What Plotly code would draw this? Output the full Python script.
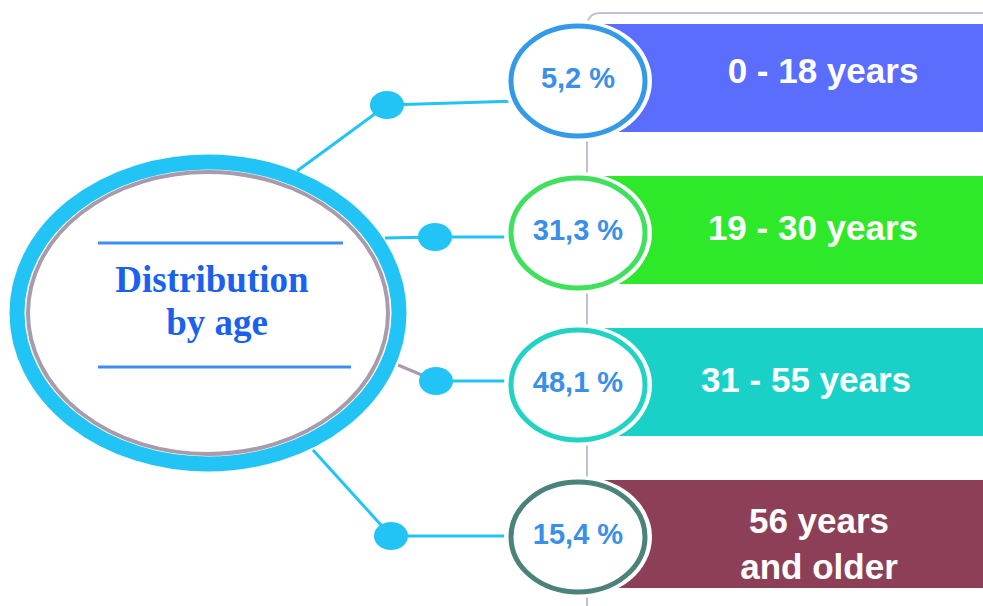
import plotly.graph_objects as go

# ---- data ----
shares = [5.2, 31.3, 48.1, 15.4]
groups = ["0 - 18 years", "19 - 30 years", "31 - 55 years", "56 years<br>and older"]
title_lines = ["Distribution", "by age"]

# ---- styles ----
ring_colors = ["#3399e8", "#3fe05c", "#22d2c2", "#4b8279"]
bar_colors = ["#5b6dfc", "#2ee82a", "#1ad1c8", "#8e3f58"]
CYAN = "#22c3f5"
GRAY = "#a99bab"
VLINE = "#c4c0d2"
PCT_COLOR = "#3a90e8"
TITLE_COLOR = "#1a62ee"

W, H = 983, 606
row_y0, row_step = 81, 152
circ_cx, circ_rx, circ_ry = 578, 67, 55
bar_x0, bar_half = 600, 54

# big ellipse
big_cx, big_cy = 208, 313
# connector anchor points (layout)
starts = [(297, 171), (385, 238), (398, 365), (313, 450)]
dots = [(387, 105), (435, 237), (436, 381), (391, 536)]
start_colors = [CYAN, CYAN, GRAY, CYAN]

shapes = []
# gray vertical rail with rounded top corner
shapes.append(dict(type="path", path=f"M 587,{H + 5} L 587,27 Q 587,13 601,13 L {W + 5},13",
                   line=dict(color=VLINE, width=2)))

rows_y = [row_y0 + i * row_step for i in range(len(shares))]

# bars
for i, y in enumerate(rows_y):
    shapes.append(dict(type="rect", x0=bar_x0, x1=W + 5, y0=y - 3 - bar_half, y1=y - 3 + bar_half,
                       fillcolor=bar_colors[i], line=dict(width=0)))

# connectors
for i, y in enumerate(rows_y):
    sx, sy = starts[i]
    dx, dy = dots[i]
    shapes.append(dict(type="line", x0=sx, y0=sy, x1=dx, y1=dy,
                       line=dict(color=start_colors[i], width=3)))
    shapes.append(dict(type="line", x0=dx, y0=dy, x1=circ_cx - circ_rx + 4, y1=dy - 4 if i == 0 else dy,
                       line=dict(color=CYAN, width=3)))
    shapes.append(dict(type="circle", x0=dx - 17, x1=dx + 17, y0=dy - 14, y1=dy + 14,
                       fillcolor=CYAN, line=dict(width=0)))

# value circles: white halo + coloured ring
for i, y in enumerate(rows_y):
    shapes.append(dict(type="circle", x0=circ_cx - circ_rx - 7, x1=circ_cx + circ_rx + 7,
                       y0=y - circ_ry - 6, y1=y + circ_ry + 6,
                       fillcolor="white", line=dict(width=0)))
    shapes.append(dict(type="circle", x0=circ_cx - circ_rx, x1=circ_cx + circ_rx,
                       y0=y - circ_ry, y1=y + circ_ry,
                       fillcolor="white", line=dict(color=ring_colors[i], width=5)))

# big ellipse
shapes.append(dict(type="circle", x0=big_cx - 191, x1=big_cx + 191, y0=big_cy - 151, y1=big_cy + 151,
                   fillcolor="white", line=dict(color=CYAN, width=15)))
shapes.append(dict(type="circle", x0=big_cx - 180, x1=big_cx + 180, y0=big_cy - 141, y1=big_cy + 141,
                   fillcolor="white", line=dict(color=GRAY, width=4)))
# inner rules
shapes.append(dict(type="line", x0=98, x1=343, y0=243, y1=243, line=dict(color="#3d8ef0", width=3)))
shapes.append(dict(type="line", x0=98, x1=351, y0=367, y1=367, line=dict(color="#3d8ef0", width=3)))

for s in shapes:
    s["layer"] = "below"

fig = go.Figure()

pct_labels = [f"{v:.1f}".replace(".", ",") + " %" for v in shares]
fig.add_trace(go.Scatter(
    x=[circ_cx] * len(shares), y=rows_y, mode="text", text=pct_labels,
    textfont=dict(family="Liberation Sans, Arial", size=29, color=PCT_COLOR, weight="bold"),
    hoverinfo="skip", showlegend=False, cliponaxis=False))

label_x = [823, 813, 806, 819]
fig.add_trace(go.Scatter(
    x=label_x, y=[y - 7 if i == 0 else (y + 10 if i == 3 else y - 2) for i, y in enumerate(rows_y)],
    mode="text", text=groups,
    textfont=dict(family="Liberation Sans, Arial", size=35, color="white", weight="bold"),
    hoverinfo="skip", showlegend=False, cliponaxis=False))

fig.add_trace(go.Scatter(
    x=[212, 217], y=[283, 326], mode="text", text=title_lines,
    textfont=dict(family="Liberation Serif, Times New Roman", size=37, color=TITLE_COLOR, weight="bold"),
    hoverinfo="skip", showlegend=False, cliponaxis=False))

fig.update_layout(
    width=W, height=H, margin=dict(l=0, r=0, t=0, b=0),
    paper_bgcolor="white", plot_bgcolor="white",
    shapes=shapes, showlegend=False,
    xaxis=dict(range=[0, W], visible=False, fixedrange=True),
    yaxis=dict(range=[H, 0], visible=False, fixedrange=True),
)

fig.write_html("out.html", config={"displayModeBar": False},
               post_script="document.body.style.margin='0';document.body.style.overflow='hidden';")
